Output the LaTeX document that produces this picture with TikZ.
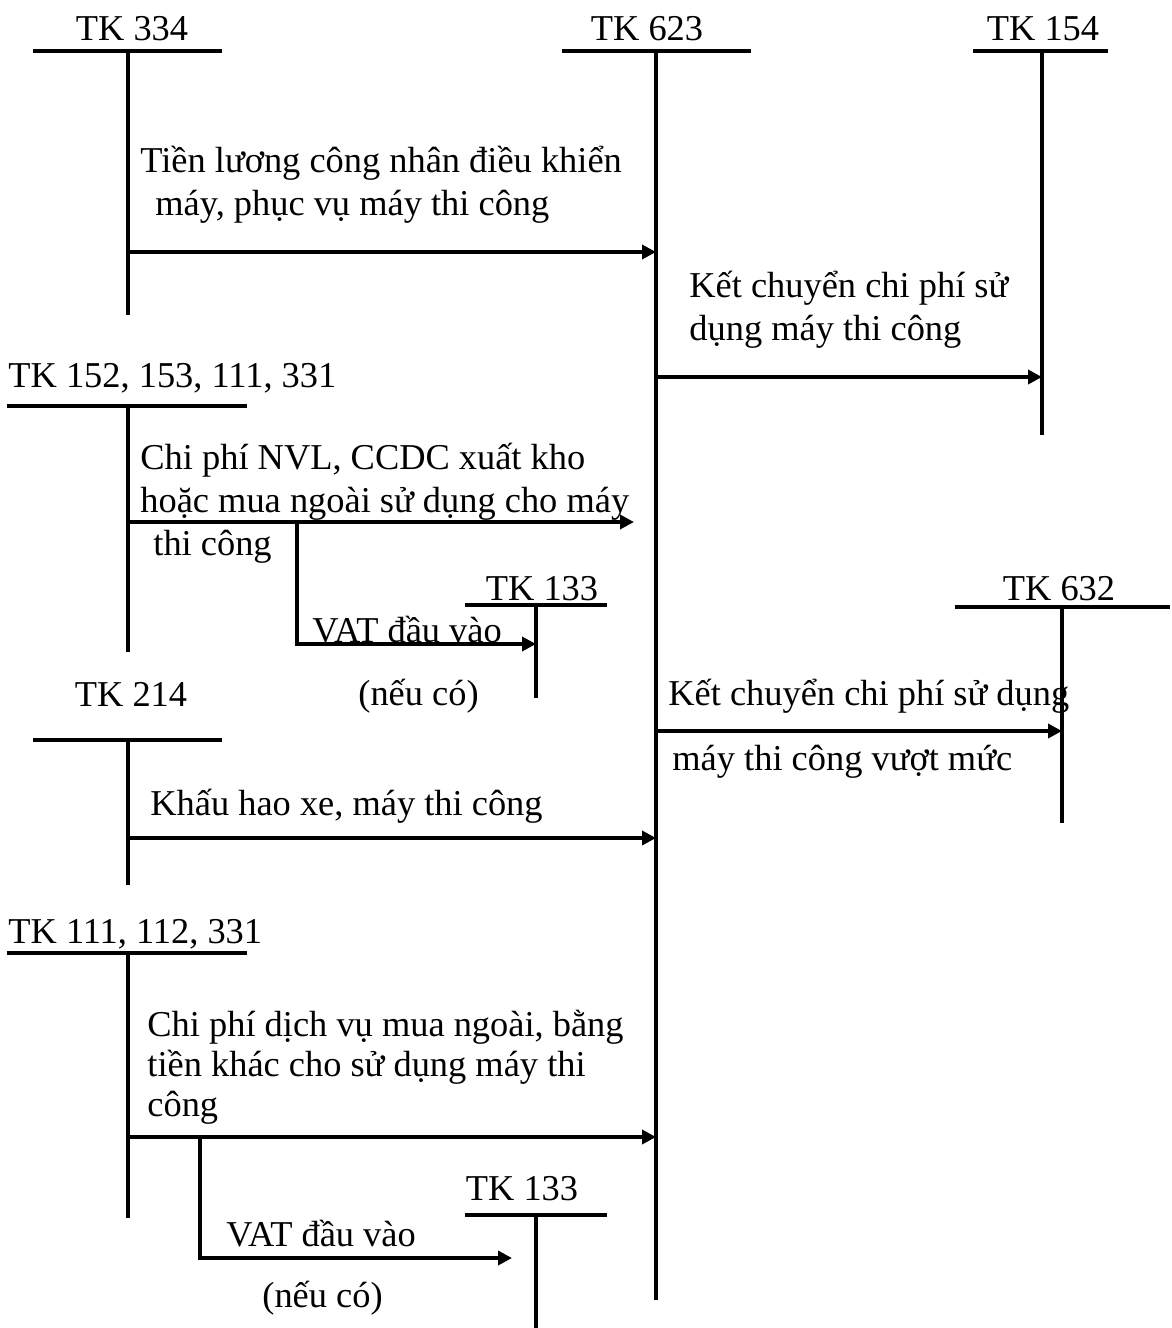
\documentclass[tikz,border=0pt]{standalone}
\usepackage{fontspec}
\setmainfont{Liberation Serif}
\usetikzlibrary{arrows.meta}

\begin{document}
\begin{tikzpicture}[
    x=0.5pt, y=-0.5pt,
    font=\fontsize{18.2}{21.5}\selectfont,
    tbar/.style={line width=2.2pt},
    tline/.style={line width=2pt},
    arr/.style={-{Triangle[length=7pt,width=7pt]}, line width=2pt},
    acct/.style={anchor=base, inner sep=0pt},
    acctl/.style={anchor=base west, inner sep=0pt},
    lbl/.style={anchor=base west, inner sep=0pt, align=left}
]
\useasboundingbox (0,0) rectangle (1172,1328);

% --- T-accounts: title, bar and stem ---
\node[acct] (t334) at (132,40) {TK 334};
\coordinate (c334) at (128,51);
\draw[tbar] (33,51) -- (222,51);
\draw[tline] (c334) -- (128,315);

\node[acct] (t623) at (647,40) {TK 623};
\coordinate (c623) at (656,51);
\draw[tbar] (562,51) -- (751,51);
\draw[tline] (c623) -- (656,1300);

\node[acct] (t154) at (1043,40) {TK 154};
\coordinate (c154) at (1042,51);
\draw[tbar] (973,51) -- (1108,51);
\draw[tline] (c154) -- (1042,435);

\node[acctl] (t152) at (8,387) {TK 152, 153, 111, 331};
\coordinate (c152) at (128,406);
\draw[tbar] (7,406) -- (247,406);
\draw[tline] (c152) -- (128,652);

\node[acct] (t133a) at (542,600) {TK 133};
\coordinate (c133a) at (536,605);
\draw[tbar] (465,605) -- (607,605);
\draw[tline] (c133a) -- (536,698);

\node[acct] (t214) at (131,706) {TK 214};
\coordinate (c214) at (128,740);
\draw[tbar] (33,740) -- (222,740);
\draw[tline] (c214) -- (128,885);

\node[acct] (t632) at (1059,600) {TK 632};
\coordinate (c632) at (1062,607);
\draw[tbar] (955,607) -- (1170,607);
\draw[tline] (c632) -- (1062,823);

\node[acctl] (t111) at (8,943) {TK 111, 112, 331};
\coordinate (c111) at (128,953);
\draw[tbar] (7,953) -- (247,953);
\draw[tline] (c111) -- (128,1218);

\node[acct] (t133b) at (522,1200) {TK 133};
\coordinate (c133b) at (536,1215);
\draw[tbar] (465,1215) -- (607,1215);
\draw[tline] (c133b) -- (536,1328);

% --- Arrow start points and branch corners ---
\coordinate (s334) at (128,252);
\coordinate (s623a) at (656,377);
\coordinate (s152) at (128,522);
\coordinate (e152) at (634,522);
\coordinate (b152) at (297,522);
\coordinate (k152) at (297,644);
\coordinate (s214) at (128,838);
\coordinate (s623b) at (656,731);
\coordinate (s111) at (128,1137);
\coordinate (b111) at (200,1137);
\coordinate (k111) at (200,1258);
\coordinate (e111) at (512,1258);

% --- Arrows ---
\draw[arr] (s334) -- (s334 -| c623);
\draw[arr] (s623a) -- (s623a -| c154);
\draw[arr] (s152) -- (e152);
\draw[arr] (b152) -- (k152) -- (k152 -| c133a);
\draw[arr] (s214) -- (s214 -| c623);
\draw[arr] (s623b) -- (s623b -| c632);
\draw[arr] (s111) -- (s111 -| c623);
\draw[arr] (b111) -- (k111) -- (e111);

% --- Labels (base sits on the last line) ---
\node[lbl] (l334) at (140,215) {Tiền lương công nhân điều khiển\\\hspace*{7.5pt}máy, phục vụ máy thi công};
\node[lbl] (l154) at (689,340) {Kết chuyển chi phí sử\\dụng máy thi công};
\node[lbl] (l152) at (140,555) {Chi phí NVL, CCDC xuất kho\\hoặc mua ngoài sử dụng cho máy\\\hspace*{6.5pt}thi công};
\node[lbl] (vat1) at (312,642) {VAT đầu vào};
\node[lbl] (nc1) at (358,705) {(nếu có)};
\node[lbl] (l214) at (150,815) {Khấu hao xe, máy thi công};
\node[lbl] (l632a) at (668,705) {Kết chuyển chi phí sử dụng};
\node[lbl] (l632b) at (672,770) {máy thi công vượt mức};
\node[lbl, font=\fontsize{18.2}{20}\selectfont] (l111) at (147,1116) {Chi phí dịch vụ mua ngoài, bằng\\tiền khác cho sử dụng máy thi\\công};
\node[lbl] (vat2) at (226,1246) {VAT đầu vào};
\node[lbl] (nc2) at (262,1307) {(nếu có)};

\end{tikzpicture}
\end{document}
